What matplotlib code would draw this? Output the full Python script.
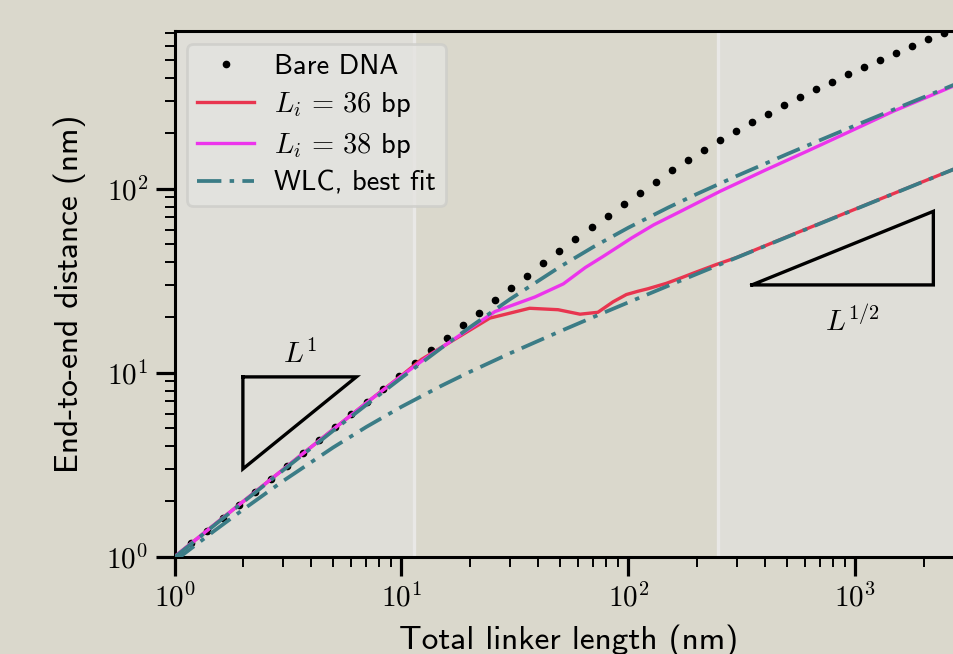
import matplotlib
matplotlib.use("Agg")
import matplotlib.pyplot as plt
from matplotlib.ticker import FuncFormatter, LogLocator, NullFormatter
import numpy as np

plt.rcParams['font.family'] = ['cmss10', 'DejaVu Sans']
plt.rcParams['mathtext.fontset'] = 'cm'
plt.rcParams['axes.unicode_minus'] = False

# ---------------- data ----------------
bare_L = [1.000, 1.177, 1.384, 1.629, 1.918, 2.256, 2.655, 3.124, 3.677, 4.325,
          5.090, 5.990, 7.047, 8.292, 9.759, 11.48, 13.51, 15.90, 18.71, 22.02,
          25.91, 30.49, 35.87, 42.22, 49.68, 58.47, 68.79, 80.95, 95.24, 112.0,
          131.9, 155.2, 182.6, 214.9, 252.9, 297.6, 350.1, 412.0, 484.8, 570.4,
          671.2, 789.9, 929.1, 1094, 1287, 1514, 1781, 2097, 2467]
bare_R = [1.00, 1.18, 1.38, 1.62, 1.91, 2.25, 2.64, 3.11, 3.65, 4.29,
          5.05, 5.93, 6.96, 8.18, 9.60, 11.26, 13.21, 15.48, 18.13, 21.21,
          24.75, 28.97, 33.73, 39.36, 45.71, 53.21, 61.66, 71.29, 82.41, 95.06,
          109.1, 125.9, 142.6, 162.2, 183.2, 205.1, 229.6, 255.9, 283.8, 314.1,
          346.7, 382.0, 418.8, 457.1, 501.2, 544.5, 597.0, 648.6, 701.5]

l36_L = [1, 2, 3, 5, 7, 10, 12.24, 24.5, 36.7, 49.0, 61.2, 73.4, 85.7, 98.0,
         110, 122, 147, 171, 196, 245, 300, 500, 1000, 2000, 2800]
l36_R = [1.0, 1.99, 2.97, 4.92, 6.85, 9.65, 11.8, 19.8, 22.4, 22.0, 20.8, 21.3,
         24.3, 26.6, 27.7, 28.6, 30.6, 32.8, 35.0, 38.8, 42.3, 54.8, 77.5,
         109.6, 129.6]

l38_L = [1, 2, 3, 5, 7, 10, 12.92, 25.84, 38.76, 51.68, 64.6, 77.5, 90.4,
         103.4, 129.2, 168.7, 253.5, 400, 611, 1000, 1469, 2000, 2800]
l38_R = [1.0, 1.99, 2.97, 4.92, 6.85, 9.6, 12.1, 21.5, 25.8, 30.4, 37.3, 42.9,
         48.5, 54.0, 63.6, 75.0, 96.8, 126.0, 159.6, 211.3, 263.6, 309.0, 368.0]

wlc_L = [1, 1.5, 2, 3, 5, 7, 10, 15, 20, 30, 50, 70, 100, 150, 200, 300, 500,
         700, 1000, 1500, 2000, 2800]
wlc_hi_R = [0.993, 1.485, 1.974, 2.941, 4.839, 6.688, 9.376, 13.64, 17.65,
            25.03, 37.67, 48.23, 61.42, 79.08, 93.54, 117.26, 154.11, 183.71,
            220.79, 271.57, 314.25, 372.49]
wlc_lo_R = [0.947, 1.385, 1.800, 2.573, 3.924, 5.074, 6.530, 8.492, 10.10,
            12.73, 16.79, 20.05, 24.12, 29.70, 34.38, 42.21, 54.61, 64.67,
            77.34, 94.77, 109.46, 129.55]

region_edges = [11.4, 248]
tri1_x = [2, 2 * 10 ** 0.5, 2, 2]
tri1_y = [9.49, 9.49, 3, 9.49]
tri2_x = [350, 350 * 10 ** 0.8, 350 * 10 ** 0.8, 350]
tri2_y = [30, 30, 30 * 10 ** 0.4, 30]

# ---------------- figure ----------------
fig_bg = '#dad8cc'
fig = plt.figure(figsize=(9.54, 6.54), dpi=100, facecolor=fig_bg)
ax = fig.add_axes([0.1830, 0.1488, 0.8270, 0.8038])
ax.set_facecolor(fig_bg)
ax.set_xscale('log')
ax.set_yscale('log')
ax.set_xlim(1, 3000)
ax.set_ylim(1, 720)

light = '#dfded8'
ax.axvspan(1, region_edges[0], color=light, zorder=0, lw=0)
ax.axvspan(region_edges[1], 3000, color=light, zorder=0, lw=0)
for xe in region_edges:
    ax.axvline(xe, color='#e9e8e6', lw=2.4, zorder=0.5)

c_red = '#e8354f'
c_mag = '#ec34ec'
c_teal = '#3b7c86'

ax.plot(bare_L, bare_R, linestyle='none', marker='o', ms=4.5, color='black',
        label='Bare DNA', zorder=2)
ax.plot(l36_L, l36_R, color=c_red, lw=2.4, label=r'$L_i\,=\,36$ bp', zorder=3)
ax.plot(l38_L, l38_R, color=c_mag, lw=2.4, label=r'$L_i\,=\,38$ bp', zorder=3)
dash = (0, (6.5, 2.2, 1.2, 2.2))
ax.plot(wlc_L, wlc_hi_R, color=c_teal, lw=2.7, linestyle=dash,
        label='WLC, best fit', zorder=4)
ax.plot(wlc_L, wlc_lo_R, color=c_teal, lw=2.7, linestyle=dash, zorder=4)

ax.plot(tri1_x, tri1_y, color='black', lw=2.4, solid_joinstyle='miter', zorder=5)
ax.plot(tri2_x, tri2_y, color='black', lw=2.4, solid_joinstyle='miter', zorder=5)
ax.text(3.57, 12.5, r'$L^1$', fontsize=21, ha='center', va='center')
ax.text(967, 18.9, r'$L^{1/2}$', fontsize=21, ha='center', va='center')

# axes styling
for s in ['left', 'bottom', 'top', 'right']:
    ax.spines[s].set_linewidth(2.2)
    ax.spines[s].set_color('black')

fmt = FuncFormatter(lambda v, p: r'$10^{%d}$' % int(round(np.log10(v))))
ax.xaxis.set_major_locator(LogLocator(base=10, numticks=10))
ax.yaxis.set_major_locator(LogLocator(base=10, numticks=10))
ax.xaxis.set_major_formatter(fmt)
ax.yaxis.set_major_formatter(fmt)
ax.xaxis.set_minor_locator(LogLocator(base=10, subs=np.arange(2, 10), numticks=20))
ax.yaxis.set_minor_locator(LogLocator(base=10, subs=np.arange(2, 10), numticks=20))
ax.xaxis.set_minor_formatter(NullFormatter())
ax.yaxis.set_minor_formatter(NullFormatter())
ax.tick_params(which='major', direction='out', length=14, width=2.3,
               labelsize=21, pad=5, colors='black')
ax.tick_params(which='minor', direction='out', length=7.5, width=1.4,
               colors='black')

ax.set_xlabel('Total linker length (nm)', fontsize=24, labelpad=9)
ax.set_ylabel('End-to-end distance (nm)', fontsize=24, labelpad=15)

leg = ax.legend(loc='upper left', fontsize=20.5, numpoints=1, handlelength=2.0,
                handletextpad=0.7, labelspacing=0.4, borderpad=0.35,
                borderaxespad=0.45, fancybox=True, framealpha=0.8,
                facecolor='#e4e4e0', edgecolor='#cdcdc9')
leg.get_frame().set_linewidth(2.0)
leg.set_zorder(10)

fig.savefig('out.png', dpi=100, facecolor=fig_bg)
